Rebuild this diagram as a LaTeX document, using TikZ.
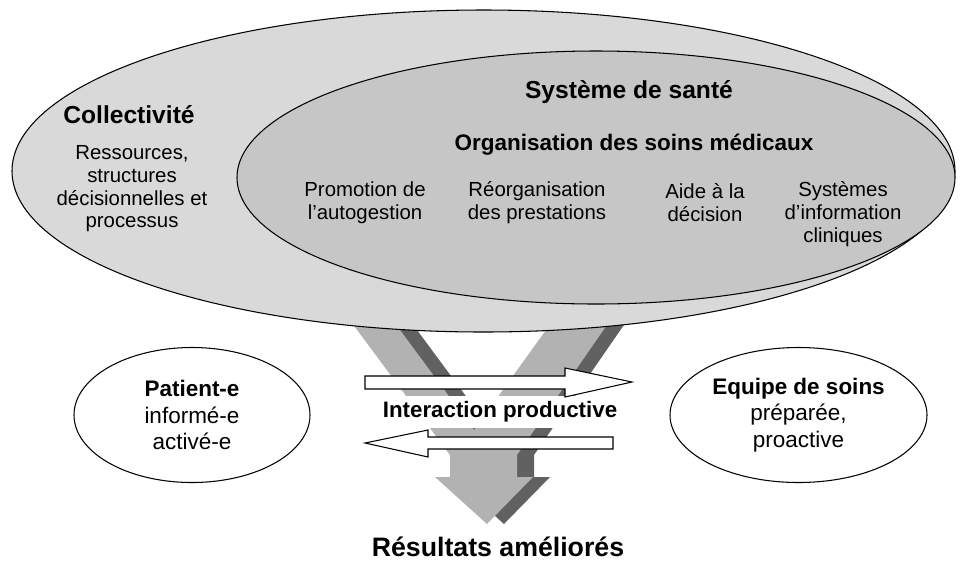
\documentclass[tikz,border=0pt]{standalone}
\usepackage{fontspec}
\setmainfont{Liberation Sans}
\usetikzlibrary{shapes.geometric}
\newcommand{\bigarrow}{(6.40,-5.60) -- (9.00,-9.10) -- (9.00,-9.54) -- (8.70,-9.54) -- (9.74,-10.48) -- (10.66,-9.54) -- (10.34,-9.54) -- (10.34,-9.10) -- (12.76,-5.60) -- (11.64,-5.60) -- (9.48,-8.60) -- (7.26,-5.60) -- cycle}

\begin{document}
\begin{tikzpicture}[
	zone/.style={draw, ellipse, inner sep=0pt, semithick},
	actor/.style={draw, ellipse, fill=white, inner sep=0pt, semithick, align=center, minimum height=2.70cm, font=\fontsize{12.8}{15.1}\selectfont},
	title/.style={font=\fontsize{14}{16}\selectfont\bfseries},
	item/.style={align=center, font=\fontsize{11.6}{12.9}\selectfont},
	flow/.style={draw, fill=white, semithick}]
	\useasboundingbox (0,0) rectangle (19.2,-11.22);
	\fill[black!62, xshift=0.34cm] \bigarrow;
	\fill[gray!60] \bigarrow;
	\node[zone, fill=gray!30, minimum width=18.86cm, minimum height=6.44cm] (community) at (9.67,-3.42) {};
	\node[zone, fill=gray!45, minimum width=14.36cm, minimum height=5.06cm] (healthsys) at (11.92,-3.55) {};
	\node[title] (coll) at (2.58,-2.30) {Collectivité};
	\node[item] (res) at (2.64,-3.78) {Ressources,\\structures\\décisionnelles et\\processus};
	\node[title] (sante) at (12.58,-1.84) {Système de santé};
	\node[title, font=\fontsize{12.8}{15}\selectfont\bfseries] (orga) at (12.68,-2.90) {Organisation des soins médicaux};
	\node[item] (promo) at (7.30,-4.05) {Promotion de\\l’autogestion};
	\node[item] (reorg) at (10.74,-4.05) {Réorganisation\\des prestations};
	\node[item] (aide) at (14.10,-4.05) {Aide à la\\décision};
	\node[item] (sysinfo) at (16.86,-4.28) {Systèmes\\d’information\\cliniques};
	\node[actor, minimum width=4.72cm] (patient) at (3.84,-8.30) {\textbf{Patient-e}\\informé-e\\activé-e};
	\node[actor, minimum width=5.14cm] (equipe) at (15.97,-8.30) {\textbf{Equipe de soins}\\préparée,\\proactive};
	\node[fill=white, minimum height=0.64cm, font=\fontsize{12.7}{15}\selectfont\bfseries] (inter) at (10.0,-8.24) {Interaction productive};
	\draw[flow] (7.30,-7.52) -- (11.30,-7.52) -- (11.30,-7.36) -- (12.64,-7.64) -- (11.30,-7.94) -- (11.30,-7.78) -- (7.30,-7.78) -- cycle;
	\draw[flow] (12.26,-8.74) -- (8.56,-8.74) -- (8.56,-8.60) -- (7.30,-8.86) -- (8.56,-9.14) -- (8.56,-8.98) -- (12.26,-8.98) -- cycle;
	\node[font=\fontsize{15.2}{18}\selectfont\bfseries] (result) at (9.96,-10.94) {Résultats améliorés};
\end{tikzpicture}
\end{document}
